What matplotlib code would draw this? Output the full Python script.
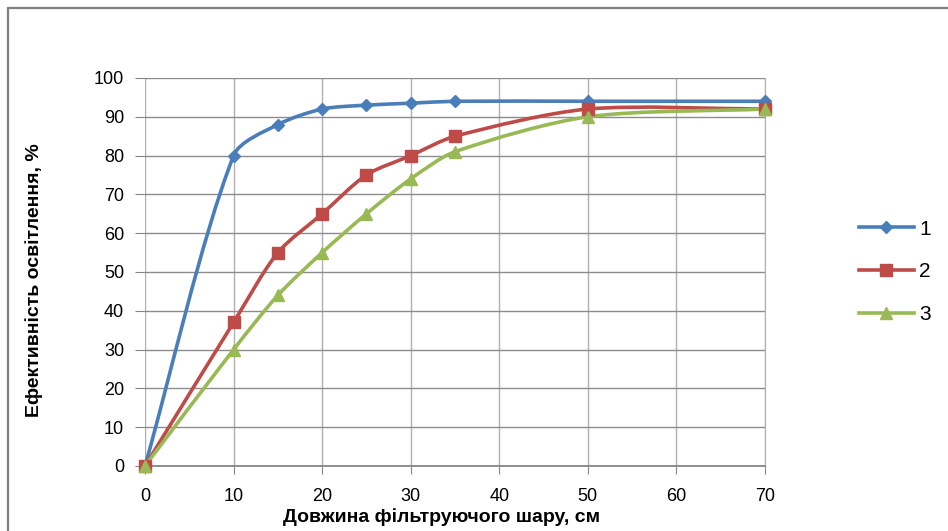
import numpy as np
import matplotlib
matplotlib.use("Agg")
import matplotlib.pyplot as plt
from matplotlib.path import Path
from matplotlib.patches import PathPatch, Rectangle

plt.rcParams['font.family'] = ['Liberation Sans', 'DejaVu Sans']

x = [0, 10, 15, 20, 25, 30, 35, 50, 70]
s1 = [0, 80, 88, 92, 93, 93.5, 94, 94, 94]
s2 = [0, 37, 55, 65, 75, 80, 85, 92, 92]
s3 = [0, 30, 44, 55, 65, 74, 81, 90, 92]
labels = ['1', '2', '3']
colors = ['#4A7EBB', '#BE4B48', '#98B954']
markers = ['D', 's', '^']
msizes = [6, 8.5, 8]


def smooth_path(ax, xs, ys, k=0.28):
    # smoothing done in display space, control arms limited by segment length
    pts = ax.transData.transform(np.column_stack([xs, ys]))
    n = len(pts)
    verts = [pts[0]]
    codes = [Path.MOVETO]
    for i in range(n - 1):
        p0 = pts[max(i - 1, 0)]
        p1 = pts[i]
        p2 = pts[i + 1]
        p3 = pts[min(i + 2, n - 1)]
        seg = np.hypot(*(p2 - p1))
        d1 = p2 - p0
        d1 = d1 / np.hypot(*d1)
        d2 = p3 - p1
        d2 = d2 / np.hypot(*d2)
        verts += [p1 + d1 * seg * k, p2 - d2 * seg * k, p2]
        codes += [Path.CURVE4] * 3
    verts = ax.transData.inverted().transform(np.array(verts))
    return Path(verts, codes)


fig = plt.figure(figsize=(9.48, 5.31), dpi=100)
fig.patches.append(Rectangle((8 / 948, -0.1), 1.1, (531 - 8) / 531 + 0.1,
                             transform=fig.transFigure, fill=False,
                             edgecolor='#7F7F7F', linewidth=1.6))

ax = fig.add_axes([145 / 948, 65 / 531, 620 / 948, 388 / 531])
ax.set_xlim(0, 70)
ax.set_ylim(0, 100)
ax.set_xticks(range(0, 71, 10))
ax.set_yticks(range(0, 101, 10))
ax.xaxis.grid(True, color='#B0B0B0', linewidth=1.0)
ax.yaxis.grid(True, color='#8C8C8C', linewidth=1.0)
ax.set_axisbelow(True)
for side in ['top', 'left']:
    ax.spines[side].set_visible(False)
ax.spines['right'].set_color('#B0B0B0')
ax.spines['bottom'].set_color('#868686')
ax.spines['bottom'].set_linewidth(1.3)
ax.tick_params(axis='x', length=6, color='#868686', labelsize=13, pad=10)
ax.tick_params(axis='y', length=7, color='#868686', labelsize=13, pad=8)

for ys, c, m, ms, lab in zip([s1, s2, s3], colors, markers, msizes, labels):
    ax.add_patch(PathPatch(smooth_path(ax, x, ys), facecolor='none', edgecolor=c,
                           linewidth=2.6, capstyle='round', joinstyle='round',
                           clip_on=False, zorder=3))
    ax.plot(x, ys, linestyle='none', marker=m, markersize=ms, color=c,
            clip_on=False, zorder=4)
    ax.plot([], [], color=c, linewidth=2.6, marker=m, markersize=ms, label=lab)

ax.set_xlabel('Довжина фільтруючого шару, см', fontsize=14, fontweight='bold')
ax.xaxis.set_label_coords(0.479, -0.11)
ax.set_ylabel('Ефективність освітлення, %', fontsize=14, fontweight='bold')
ax.yaxis.set_label_coords(-0.165, 0.479)

fig.legend(loc='upper left', bbox_to_anchor=(840 / 948, 1 - 201 / 531),
           frameon=False, fontsize=15, handlelength=2.65, labelspacing=1.13,
           handletextpad=0.25)

fig.savefig('out.png', dpi=100)
